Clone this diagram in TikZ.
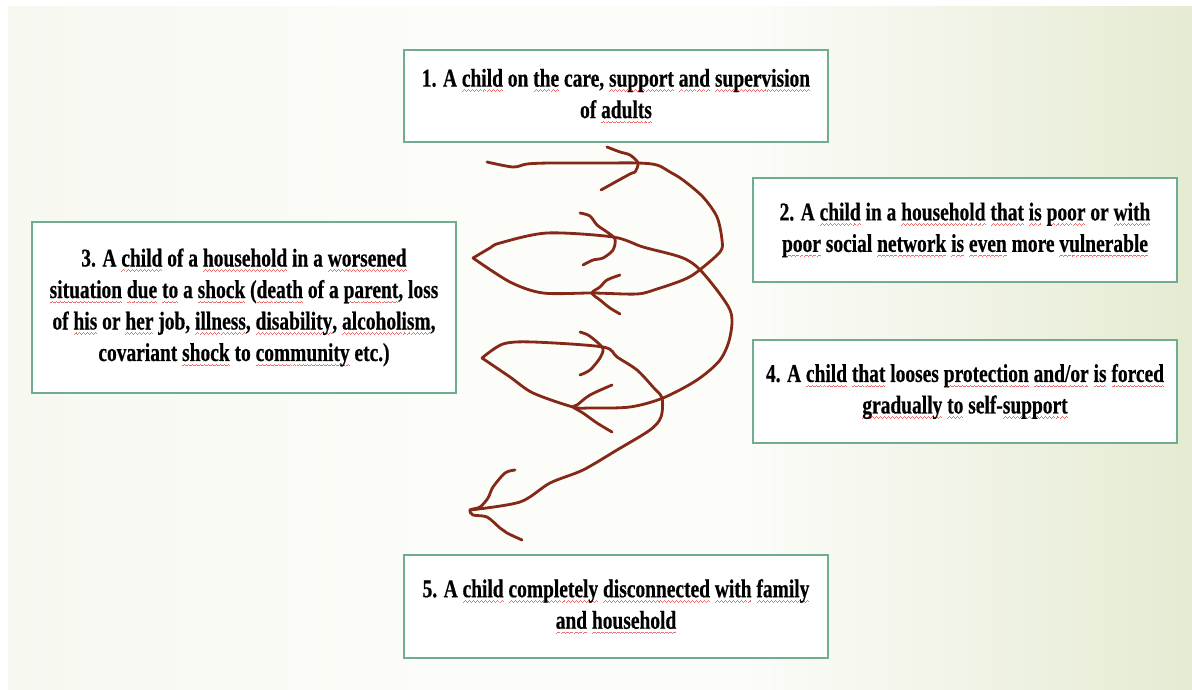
\documentclass[tikz,border=0pt]{standalone}
\usepackage{fontspec}
\usepackage{tikz}
\usetikzlibrary{calc}
\newfontfamily\slidefont[FakeStretch=0.76, BoldFeatures={FakeBold=0.5}]{Liberation Serif}
\definecolor{boxgreen}{RGB}{112,172,144}
\definecolor{ink}{RGB}{132,40,24}
\definecolor{squig}{RGB}{236,112,112}
\definecolor{bgleft}{RGB}{247,248,240}
\definecolor{bgmid}{RGB}{252,252,249}
\definecolor{bgright}{RGB}{229,235,211}
\pgfdeclarehorizontalshading{slide}{100bp}{color(0bp)=(bgleft); color(25bp)=(bgleft); color(44bp)=(bgmid); color(56bp)=(bgmid); color(75bp)=(bgright); color(100bp)=(bgright)}
\newsavebox{\wavybox}
\newcommand{\wavebit}{\hbox{\rule[-3.6pt]{0.7pt}{0.55pt}\rule[-3.1pt]{0.7pt}{0.55pt}\rule[-2.6pt]{0.7pt}{0.55pt}\rule[-3.1pt]{0.7pt}{0.55pt}}}
\newcommand{\wavy}[1]{\sbox{\wavybox}{#1}\rlap{\color{squig}\hbox to \wd\wavybox{\xleaders\wavebit\hfill}}\usebox{\wavybox}}

\begin{document}
\begin{tikzpicture}[x=0.025cm, y=-0.025cm,
    stage/.style={draw=boxgreen, line width=2pt, fill=white, align=center, minimum width=10.6cm, inner sep=0pt,
        font={\slidefont\bfseries\fontsize{18.2}{22.4}\selectfont}},
    pen/.style={draw=ink, line width=2pt, line cap=round, line join=round}]
        \useasboundingbox (0,0) rectangle (1192,690);
        \fill[white] (0,0) rectangle (1192,690);
        \shade[shading=slide] (8,7) rectangle (1192,689);

        \node[stage, minimum height=2.3cm] (one) at (616,96) {1. A \wavy{child} on \wavy{the} care, \wavy{support} \wavy{and} \wavy{supervision}\\ of \wavy{adults}};
        \node[stage, minimum height=2.6cm] (two) at (965,230) {2. A \wavy{child} in a \wavy{household} \wavy{that} \wavy{is} \wavy{poor} or \wavy{with}\\ \wavy{poor} social \wavy{network} \wavy{is} \wavy{even} more \wavy{vulnerable}};
        \node[stage, minimum height=4.275cm] (three) at (244,307.5) {3. A \wavy{child} of a \wavy{household} in a \wavy{worsened}\\ \wavy{situation} \wavy{due} \wavy{to} a \wavy{shock} (\wavy{death} of a \wavy{parent}, loss\\ of \wavy{his} or \wavy{her} job, \wavy{illness}, \wavy{disability}, \wavy{alcoholism},\\ covariant \wavy{shock} to \wavy{community} etc.)};
        \node[stage, minimum height=2.575cm] (four) at (965,391.5) {4. A \wavy{child} \wavy{that} looses \wavy{protection} \wavy{and/or} \wavy{is} \wavy{forced}\\ \wavy{gradually} \wavy{to} self-\wavy{support}};
        \node[stage, minimum height=2.575cm] (five) at (616,606.5) {5. A \wavy{child} \wavy{completely} \wavy{disconnected} \wavy{with} \wavy{family}\\ \wavy{and} \wavy{household}};

        % hand drawn spiral
        \draw[pen] plot[smooth, tension=0.5] coordinates {(487,162) (513,167) (527,164) (550,163) (600,163) (638,163) (657,165) (670,172) (683,180) (703,197) (717,217) (722,240) (720,252) (697,272) (683,280) (657,289) (637,294) (593,293) (543,293) (510,282) (473,258)};
        \draw[pen] plot[smooth, tension=0.5] coordinates {(473,258) (490,248) (500,243) (547,233) (613,237) (643,247) (683,258) (703,273) (730,310) (730,337) (720,360) (697,380) (663,398) (630,407) (590,408) (573,407) (533,393) (510,377) (482,358)};
        \draw[pen] plot[smooth, tension=0.5] coordinates {(482,358) (503,344) (533,342) (603,347) (617,357) (637,370) (653,387) (662,398) (661,417) (650,430) (617,450) (583,470) (550,483) (520,502) (470,510)};

        % arrow heads
        \draw[pen] plot[smooth, tension=0.5] coordinates {(607,147) (620,152) (630,155) (638,163) (635,172) (630,174) (601,190)};
        \draw[pen] plot[smooth, tension=0.5] coordinates {(580,213) (590,216) (597,225) (607,232) (615,239) (613,250) (603,258) (593,260) (583,265)};
        \draw[pen] plot[smooth, tension=0.5] coordinates {(620,275) (607,280) (600,287) (592,293) (600,300) (610,308) (620,314)};
        \draw[pen] plot[smooth, tension=0.5] coordinates {(580,332) (588,335) (597,342) (603,349) (600,358) (590,370) (580,375)};
        \draw[pen] plot[smooth, tension=0.5] coordinates {(612,385) (590,395) (577,405) (573,407) (583,413) (597,423) (612,432)};
        \draw[pen] plot[smooth, tension=0.5] coordinates {(515,470) (505,473) (493,487) (488,498) (480,507) (470,510) (473,515) (487,517) (500,528) (507,533) (522,540)};
\end{tikzpicture}
\end{document}
